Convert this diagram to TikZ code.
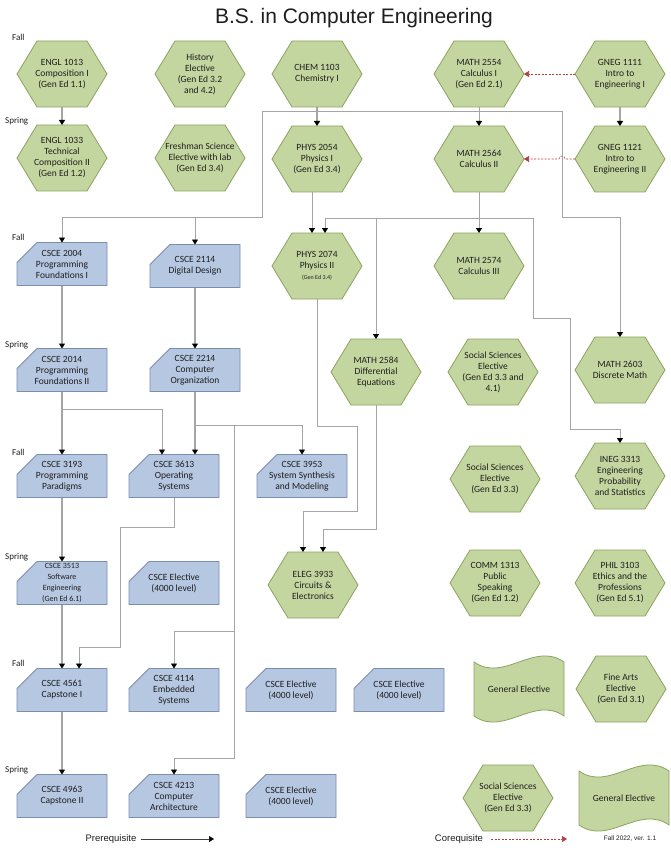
\documentclass[tikz,border=0pt]{standalone}
\usepackage{fontspec}
\setmainfont{Carlito}
\newfontfamily\arialf{Liberation Sans}
\usetikzlibrary{arrows.meta}
\pgfdeclarelayer{bg}
\pgfsetlayers{bg,main}
\definecolor{hexfill}{RGB}{196,214,160}
\definecolor{hexline}{RGB}{140,162,96}
\definecolor{boxfill}{RGB}{182,199,226}
\definecolor{boxline}{RGB}{122,142,176}
\definecolor{linegray}{RGB}{165,165,165}
\definecolor{corered}{RGB}{176,64,64}
\definecolor{txt}{RGB}{30,30,30}
\newcommand\hexcourse[4]{%
  \node[hexn] (#1) at (#2,#3) {#4};
  \begin{pgfonlayer}{bg}
  \draw[hexd] (#1.west) -- ([xshift=20pt]#1.north west) -- ([xshift=-20pt]#1.north east) -- (#1.east) -- ([xshift=-20pt]#1.south east) -- ([xshift=20pt]#1.south west) -- cycle;
  \end{pgfonlayer}}
\newcommand\boxcourse[4]{%
  \node[boxn] (#1) at (#2,#3) {#4};
  \begin{pgfonlayer}{bg}
  \draw[boxd] ([yshift=-20pt]#1.north west) -- ([xshift=20pt]#1.north west) -- (#1.north east) -- (#1.south east) -- (#1.south west) -- cycle;
  \end{pgfonlayer}}
\newcommand\tapecourse[4]{%
  \node[hexn] (#1) at (#2,#3) {#4};
  \begin{pgfonlayer}{bg}
  \draw[hexd] ([yshift=-6pt]#1.north west) .. controls +(30pt,-21pt) and +(-30pt,21pt) .. ([yshift=-6pt]#1.north east) -- ([yshift=6pt]#1.south east) .. controls +(-30pt,21pt) and +(30pt,-21pt) .. ([yshift=6pt]#1.south west) -- cycle;
  \end{pgfonlayer}}
\begin{document}
\begin{tikzpicture}[x=1pt,y=-1pt,
  hexn/.style={minimum width=90pt, minimum height=66pt, inner sep=0pt, outer sep=0pt, align=center, text=txt, font=\fontsize{9.5}{11}\selectfont},
  boxn/.style={minimum width=90pt, minimum height=43pt, inner sep=0pt, outer sep=0pt, align=center, text=txt, font=\fontsize{9.5}{11}\selectfont},
  hexd/.style={fill=hexfill, draw=hexline, line width=0.8pt},
  boxd/.style={fill=boxfill, draw=boxline, line width=0.8pt},
  season/.style={anchor=west, inner sep=0pt, text=txt, font=\fontsize{9}{10}\selectfont},
  pre/.style={draw=linegray, line width=0.8pt, -{Triangle[width=6pt,length=5pt,color=black]}},
  prethick/.style={pre, line width=1.6pt},
  coreq/.style={draw=corered, line width=0.6pt, dash pattern=on 2pt off 1.5pt, -{Triangle[width=6pt,length=5pt,color=corered]}}
]
\useasboundingbox (0,0) rectangle (670,850);
\begin{pgfonlayer}{bg}
\fill[white] (0,0) rectangle (670,850);
\end{pgfonlayer}

\node[font=\arialf\fontsize{21}{25}\selectfont, text=txt] (title) at (354,18) {B.S. in Computer Engineering};

% season labels
\node[season] (s1) at (12,37) {Fall};
\node[season] (s2) at (5,121) {Spring};
\node[season] (s3) at (12,237) {Fall};
\node[season] (s4) at (5,345) {Spring};
\node[season] (s5) at (12,452) {Fall};
\node[season] (s6) at (5,557) {Spring};
\node[season] (s7) at (12,663) {Fall};
\node[season] (s8) at (5,770) {Spring};

% row 1
\hexcourse{engla}{62}{74}{ENGL 1013\\Composition I\\(Gen Ed 1.1)}
\hexcourse{hist}{200}{74}{History\\Elective\\(Gen Ed 3.2\\and 4.2)}
\hexcourse{chem}{317}{74}{CHEM 1103\\Chemistry I}
\hexcourse{matha}{479}{74}{MATH 2554\\Calculus I\\(Gen Ed 2.1)}
\hexcourse{gnega}{620}{74}{GNEG 1111\\Intro to\\Engineering I}
% row 2
\hexcourse{englb}{62}{158}{ENGL 1033\\Technical\\Composition II\\(Gen Ed 1.2)}
\hexcourse{fsci}{200}{158}{Freshman Science\\Elective with lab\\(Gen Ed 3.4)}
\hexcourse{physa}{317}{159}{PHYS 2054\\Physics I\\(Gen Ed 3.4)}
\hexcourse{mathb}{479}{159}{MATH 2564\\Calculus II}
\hexcourse{gnegb}{620}{159}{GNEG 1121\\Intro to\\Engineering II}
% row 3
\boxcourse{cscea}{62}{264}{CSCE 2004\\Programming\\Foundations I}
\boxcourse{csceb}{195}{266}{CSCE 2114\\Digital Design}
\hexcourse{physb}{317}{266}{PHYS 2074\\Physics II\\{\fontsize{6}{7}\selectfont (Gen Ed 3.4)}}
\hexcourse{mathc}{479}{266}{MATH 2574\\Calculus III}
% row 4
\boxcourse{cscec}{62}{370}{CSCE 2014\\Programming\\Foundations II}
\boxcourse{csced}{195}{370}{CSCE 2214\\Computer\\Organization}
\hexcourse{mathd}{376}{372}{MATH 2584\\Differential\\Equations}
\hexcourse{socsa}{493}{372}{Social Sciences\\Elective\\(Gen Ed 3.3 and\\4.1)}
\hexcourse{mathe}{620}{370}{MATH 2603\\Discrete Math}
% row 5
\boxcourse{cscee}{62}{476}{CSCE 3193\\Programming\\Paradigms}
\boxcourse{cscef}{174}{476}{CSCE 3613\\Operating\\Systems}
\boxcourse{csceg}{302}{476}{CSCE 3953\\System Synthesis\\and Modeling}
\hexcourse{socsb}{495}{479}{Social Sciences\\Elective\\(Gen Ed 3.3)}
\hexcourse{ineg}{620}{476}{INEG 3313\\Engineering\\Probability\\and Statistics}
% row 6
\boxcourse{csceh}{62}{583}{\fontsize{8}{10.5}\selectfont CSCE 3513\\\fontsize{8}{10.5}\selectfont Software\\\fontsize{8}{10.5}\selectfont Engineering\\\fontsize{8}{10.5}\selectfont (Gen Ed 6.1)}
\boxcourse{cscei}{174}{583}{CSCE Elective\\(4000 level)}
\hexcourse{eleg}{313}{585}{ELEG 3933\\Circuits \&\\Electronics}
\hexcourse{comm}{495}{583}{COMM 1313\\Public\\Speaking\\(Gen Ed 1.2)}
\hexcourse{phil}{620}{583}{PHIL 3103\\Ethics and the\\Professions\\(Gen Ed 5.1)}
% row 7
\boxcourse{cscej}{62}{690}{CSCE 4561\\Capstone I}
\boxcourse{cscek}{174}{690}{CSCE 4114\\Embedded\\Systems}
\boxcourse{cscel}{291}{690}{CSCE Elective\\(4000 level)}
\boxcourse{cscem}{399}{690}{CSCE Elective\\(4000 level)}
\tapecourse{gena}{519}{689}{General Elective}
\hexcourse{fine}{621}{689}{Fine Arts\\Elective\\(Gen Ed 3.1)}
% row 8
\boxcourse{cscen}{62}{796}{CSCE 4963\\Capstone II}
\boxcourse{csceo}{174}{796}{CSCE 4213\\Computer\\Architecture}
\boxcourse{cscep}{291}{796}{CSCE Elective\\(4000 level)}
\hexcourse{socsc}{508}{798}{Social Sciences\\Elective\\(Gen Ed 3.3)}
\tapecourse{genb}{624}{798}{General Elective}

% routing points
\coordinate (ma) at (479,111);
\coordinate (mb) at (479,218);
\coordinate (cc) at (62,409);
\coordinate (cd) at (195,425);
\coordinate (ce) at (234,425);

% prerequisites
\draw[prethick] (engla.south) -- (englb.north);
\draw[prethick] (chem.south) -- (physa.north);
\draw[pre] (matha.south) -- (mathb.north);
\draw[pre] (matha.south) -- (ma) -| (262,217) -| (cscea.north);
\draw[pre] (195,217) -- (csceb.north);
\draw[pre] (ma) -| (562,217) -| (mathe.north);
\draw[prethick] (gnega.south) -- (gnegb.north);
\draw[pre] ([xshift=-5pt]physa.south) -- ([xshift=-5pt]physb.north);
\draw[pre] (mathb.south) -- (mathc.north);
\draw[pre] (mb) -| ([xshift=8pt]physb.north);
\draw[pre] (mb) -| (mathd.north);
\draw[pre] (mb) -| (533,318) -| (570,429) -| (ineg.north);
\draw[prethick] (cscea.south) -- (cscec.north);
\draw[prethick] (csceb.south) -- (csced.north);
\draw[prethick] (cscec.south) -- (cscee.north);
\draw[pre] (cc) -| ([xshift=-12pt]cscef.north);
\draw[prethick] (csced.south) -- (csced.south |- cscef.north);
\draw[pre] (cd) -| (csceg.north);
\draw[pre] (ce) -- (234,758) -| (csceo.north);
\draw[pre] (234,631) -| (cscek.north);
\draw[pre] (physb.south) -- (317,426) -| (357,511) -| ([xshift=-10pt]eleg.north);
\draw[pre] (mathd.south) -- (376,529) -| ([xshift=10pt]eleg.north);
\draw[prethick] (cscee.south) -- (csceh.north);
\draw[pre] (cscef.south) -- (174,527) -| (120,647) -| ([xshift=17pt]cscej.north);
\draw[prethick] (csceh.south) -- (cscej.north);
\draw[prethick] (cscej.south) -- (cscen.north);

% corequisites
\draw[coreq] (gnega.west) -- (matha.east);
\draw[coreq] (gnegb.west) -- (565,159) arc[start angle=0,end angle=180,radius=3pt] -- (mathb.east);

% legend
\node[font=\arialf\fontsize{9.5}{11}\selectfont, text=txt, inner sep=0pt] (prq) at (111,839) {Prerequisite};
\coordinate (prqend) at (214,839);
\draw[draw=gray!50!black, line width=0.5pt, -{Triangle[width=6pt,length=5pt,color=black]}] ([xshift=4pt]prq.east) -- (prqend);
\node[font=\arialf\fontsize{9.5}{11}\selectfont, text=txt, inner sep=0pt] (coq) at (459,839) {Corequisite};
\coordinate (coqend) at (567,839);
\draw[coreq] ([xshift=8pt]coq.east) -- (coqend);
\node[font=\arialf\fontsize{6.5}{8}\selectfont, text=txt, inner sep=0pt] (ver) at (630,839) {Fall 2022, ver. 1.1};
\end{tikzpicture}
\end{document}
